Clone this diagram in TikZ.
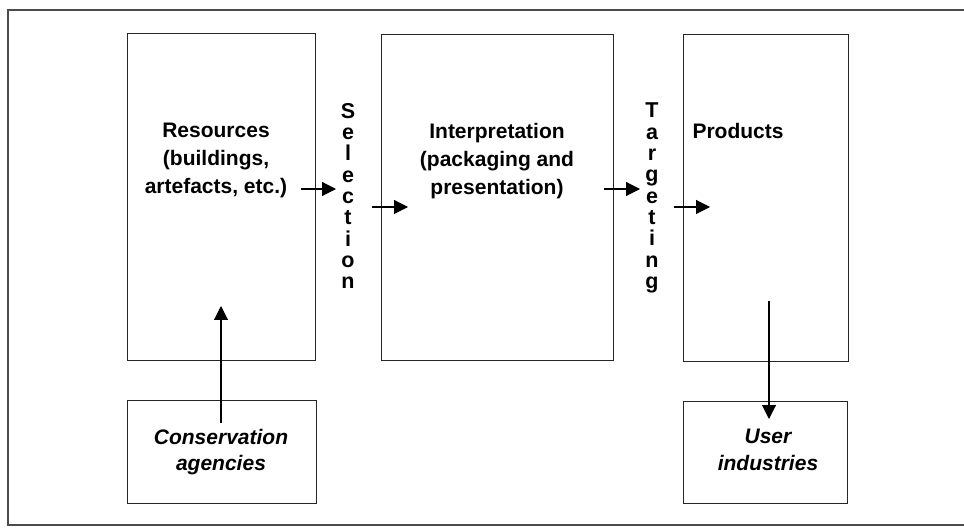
\documentclass[tikz,border=0pt]{standalone}
\usepackage{fontspec}
\setmainfont{Liberation Sans}
\usetikzlibrary{arrows.meta}
\begin{document}
\begin{tikzpicture}[x=1pt,y=-1pt,
  box/.style={draw=black!85,line width=1pt,inner sep=0pt},
  lbl/.style={font=\bfseries\fontsize{21}{28}\selectfont,align=center,inner sep=0pt},
  ilbl/.style={font=\bfseries\itshape\fontsize{21}{26.5}\selectfont,align=center,inner sep=0pt},
  vlbl/.style={font=\bfseries\fontsize{21.5}{21.3}\selectfont,align=center,inner sep=0pt},
  arr/.style={line width=1.1pt,-{Triangle[length=14pt,width=14pt]}},
  frame/.style={draw=black!70,line width=1.5pt}]
\useasboundingbox (0,0) rectangle (964,529);
\draw[frame] (964,10) -- (8,10) -- (8,525) -- (964,525);
% boxes
\node[box,minimum width=188pt,minimum height=326pt] (res) at (221,197) {};
\node[box,minimum width=232pt,minimum height=325pt] (int) at (497,197.5) {};
\node[box,minimum width=165pt,minimum height=326pt] (prod) at (765.5,198) {};
\node[box,minimum width=189pt,minimum height=103pt] (cons) at (221.5,451.5) {};
\node[box,minimum width=164pt,minimum height=102pt] (user) at (765,452) {};
% labels
\node[lbl,anchor=north] (restxt) at (216,123) {Resources\\(buildings,\\artefacts, etc.)};
\node[lbl,anchor=north] (inttxt) at (497,123) {Interpretation\\(packaging and\\presentation)};
\node[lbl,anchor=north] (prodtxt) at (738,123) {Products};
\node[ilbl,anchor=north] (constxt) at (221,429) {Conservation\\agencies};
\node[ilbl,anchor=north] (usertxt) at (768,429) {User\\industries};
\node[vlbl,anchor=north] (sel) at (348,103) {S\\e\\l\\e\\c\\t\\i\\o\\n};
\node[vlbl,anchor=north] (tgt) at (652,103) {T\\a\\r\\g\\e\\t\\i\\n\\g};
% arrow coordinates
\coordinate (a1s) at (301,189); \coordinate (a1e) at (336,189);
\coordinate (a2s) at (372,207); \coordinate (a2e) at (408,207);
\coordinate (a3s) at (604,189); \coordinate (a3e) at (640,189);
\coordinate (a4s) at (674,207); \coordinate (a4e) at (710,207);
\coordinate (a5s) at (221,423); \coordinate (a5e) at (221,306);
\coordinate (a6s) at (769,301); \coordinate (a6e) at (769,419);
\draw[arr] (a1s) -- (a1e);
\draw[arr] (a2s) -- (a2e);
\draw[arr] (a3s) -- (a3e);
\draw[arr] (a4s) -- (a4e);
\draw[arr] (a5s) -- (a5e);
\draw[arr] (a6s) -- (a6e);
\end{tikzpicture}
\end{document}
